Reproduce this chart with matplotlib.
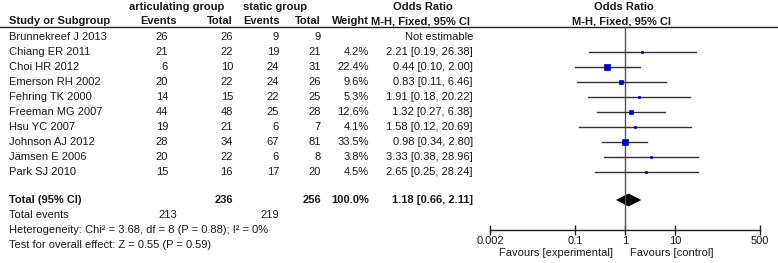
import numpy as np
import matplotlib
matplotlib.use("Agg")
import matplotlib.pyplot as plt

plt.rcParams['font.family'] = ['Liberation Sans', 'DejaVu Sans']

studies = ["Brunnekreef J 2013", "Chiang ER 2011", "Choi HR 2012", "Emerson RH 2002",
           "Fehring TK 2000", "Freeman MG 2007", "Hsu YC 2007", "Johnson AJ 2012",
           "Jämsen E 2006", "Park SJ 2010"]
art_events = [26, 21, 6, 20, 14, 44, 19, 28, 20, 15]
art_total = [26, 22, 10, 22, 15, 48, 21, 34, 22, 16]
sta_events = [9, 19, 24, 24, 22, 25, 6, 67, 6, 17]
sta_total = [9, 21, 31, 26, 25, 28, 7, 81, 8, 20]
weights = [None, 4.2, 22.4, 9.6, 5.3, 12.6, 4.1, 33.5, 3.8, 4.5]
or_est = [None, 2.21, 0.44, 0.83, 1.91, 1.32, 1.58, 0.98, 3.33, 2.65]
or_lo = [None, 0.19, 0.10, 0.11, 0.18, 0.27, 0.12, 0.34, 0.38, 0.25]
or_hi = [None, 26.38, 2.00, 6.46, 20.22, 6.38, 20.69, 2.80, 28.96, 28.24]
total_art, total_sta = 236, 256
events_art, events_sta = 213, 219
pooled = (1.18, 0.66, 2.11)
ticks = [0.002, 0.1, 1, 10, 500]
tick_labels = ["0.002", "0.1", "1", "10", "500"]

W, H = 778, 263
fig = plt.figure(figsize=(W / 100, H / 100), dpi=100)
fig.patch.set_facecolor('white')

# text layer in pixel coordinates
ax = fig.add_axes([0, 0, 1, 1])
ax.set_xlim(0, W)
ax.set_ylim(H, 0)
ax.axis('off')

fs = 8
tc = '#1a1a1a'
row0, dy = 37, 15
ytot = 200

def row_y(i):
    return row0 + dy * i

# headers
ax.text(177, 7, "articulating group", ha='center', va='center', fontsize=fs, fontweight='bold', color=tc)
ax.text(275, 7, "static group", ha='center', va='center', fontsize=fs, fontweight='bold', color=tc)
ax.text(423, 7, "Odds Ratio", ha='center', va='center', fontsize=fs, fontweight='bold', color=tc)
ax.text(624, 7, "Odds Ratio", ha='center', va='center', fontsize=fs, fontweight='bold', color=tc)
yh = 21
ax.text(9, yh, "Study or Subgroup", ha='left', va='center', fontsize=fs, fontweight='bold', color=tc)
ax.text(177, yh, "Events", ha='right', va='center', fontsize=fs, fontweight='bold', color=tc)
ax.text(233, yh, "Total", ha='right', va='center', fontsize=fs, fontweight='bold', color=tc)
ax.text(280, yh, "Events", ha='right', va='center', fontsize=fs, fontweight='bold', color=tc)
ax.text(321, yh, "Total", ha='right', va='center', fontsize=fs, fontweight='bold', color=tc)
ax.text(369, yh, "Weight", ha='right', va='center', fontsize=fs, fontweight='bold', color=tc)
ax.text(421, yh, "M-H, Fixed, 95% CI", ha='center', va='center', fontsize=fs, fontweight='bold', color=tc)
ax.text(622, yh, "M-H, Fixed, 95% CI", ha='center', va='center', fontsize=fs, fontweight='bold', color=tc)
ax.plot([0, W], [27, 27], color='#222222', lw=1.0)

for i, s in enumerate(studies):
    y = row_y(i)
    ax.text(9, y, s, ha='left', va='center', fontsize=fs, color=tc)
    ax.text(168, y, str(art_events[i]), ha='right', va='center', fontsize=fs, color=tc)
    ax.text(233, y, str(art_total[i]), ha='right', va='center', fontsize=fs, color=tc)
    ax.text(279, y, str(sta_events[i]), ha='right', va='center', fontsize=fs, color=tc)
    ax.text(321, y, str(sta_total[i]), ha='right', va='center', fontsize=fs, color=tc)
    if weights[i] is None:
        ax.text(473, y, "Not estimable", ha='right', va='center', fontsize=fs, color=tc)
    else:
        ax.text(369, y, f"{weights[i]:.1f}%", ha='right', va='center', fontsize=fs, color=tc)
        ax.text(473, y, f"{or_est[i]:.2f} [{or_lo[i]:.2f}, {or_hi[i]:.2f}]",
                ha='right', va='center', fontsize=fs, color=tc)

ax.text(9, ytot, "Total (95% CI)", ha='left', va='center', fontsize=fs, fontweight='bold', color=tc)
ax.text(233, ytot, str(total_art), ha='right', va='center', fontsize=fs, fontweight='bold', color=tc)
ax.text(321, ytot, str(total_sta), ha='right', va='center', fontsize=fs, fontweight='bold', color=tc)
ax.text(369, ytot, "100.0%", ha='right', va='center', fontsize=fs, fontweight='bold', color=tc)
ax.text(473, ytot, f"{pooled[0]:.2f} [{pooled[1]:.2f}, {pooled[2]:.2f}]",
        ha='right', va='center', fontsize=fs, fontweight='bold', color=tc)
ax.text(9, 215, "Total events", ha='left', va='center', fontsize=fs, color=tc)
ax.text(177, 215, str(events_art), ha='right', va='center', fontsize=fs, color=tc)
ax.text(279, 215, str(events_sta), ha='right', va='center', fontsize=fs, color=tc)
ax.text(9, 230, "Heterogeneity: Chi² = 3.68, df = 8 (P = 0.88); I² = 0%", ha='left', va='center', fontsize=fs, color=tc)
ax.text(9, 245, "Test for overall effect: Z = 0.55 (P = 0.59)", ha='left', va='center', fontsize=fs, color=tc)
ax.text(613, 253, "Favours [experimental]", ha='right', va='center', fontsize=fs, color=tc)
ax.text(630, 253, "Favours [control]", ha='left', va='center', fontsize=fs, color=tc)

# forest axes
x0, x1 = 490, 760
ytop, ybot = 27, 230
fa = fig.add_axes([x0 / W, (H - ybot) / H, (x1 - x0) / W, (ybot - ytop) / H])
fa.set_xscale('log')
fa.set_xlim(ticks[0], ticks[-1])
fa.set_ylim(ybot, ytop)
fa.patch.set_alpha(0)
for sp in ['top', 'right', 'left']:
    fa.spines[sp].set_visible(False)
fa.spines['bottom'].set_color('#222222')
fa.spines['bottom'].set_linewidth(1.0)
fa.set_yticks([])
fa.set_xticks(ticks)
fa.set_xticklabels(tick_labels)
fa.xaxis.set_minor_locator(matplotlib.ticker.NullLocator())
fa.tick_params(axis='x', direction='inout', length=7, width=1, color='#222222',
               labelsize=fs, labelcolor=tc, pad=1)
fa.axvline(1, color='#555555', lw=1.0)

for i in range(len(studies)):
    if weights[i] is None:
        continue
    y = row_y(i)
    fa.plot([or_lo[i], or_hi[i]], [y, y], color='#333333', lw=1.0)
    ms = 1.2 * np.sqrt(weights[i]) * 0.72
    fa.plot([or_est[i]], [y], marker='s', ms=ms, color='#0000cc', mec='#0000cc', mew=0.5, ls='none')

est, lo, hi = pooled
fa.fill([lo, est, hi, est], [ytot, ytot - 6.5, ytot, ytot + 6.5], color='black', lw=0)

fig.savefig("out.png", dpi=100, facecolor='white')
